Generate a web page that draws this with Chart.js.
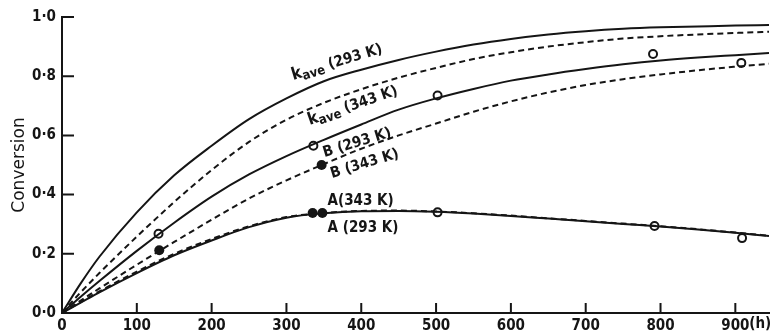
<!DOCTYPE html>
<html>
<head>
<meta charset="utf-8">
<script src="https://cdn.jsdelivr.net/npm/chart.js@4/dist/chart.umd.min.js"></script>
<style>
  html, body { margin: 0; padding: 0; background: #fff; }
  #wrap { width: 775px; height: 336px; }
</style>
</head>
<body>
<div id="wrap"><canvas id="conversionChart"></canvas></div>
<script>
// time grid (h) for the fitted curves
const hours = [0, 25, 50, 100, 150, 200, 250, 300, 350, 400, 450, 500, 550, 600, 650, 700, 750, 800, 850, 900, 945];

// conversion curves
const kave293 = [0, 0.1, 0.19, 0.34, 0.465, 0.565, 0.655, 0.725, 0.783, 0.822, 0.855, 0.883, 0.907, 0.926, 0.941, 0.952, 0.96, 0.965, 0.968, 0.971, 0.973];
const kave343 = [0, 0.07, 0.135, 0.258, 0.375, 0.483, 0.578, 0.653, 0.71, 0.756, 0.795, 0.828, 0.858, 0.881, 0.9, 0.915, 0.927, 0.935, 0.941, 0.946, 0.95];
const b293 = [0, 0.055, 0.108, 0.21, 0.305, 0.393, 0.468, 0.53, 0.585, 0.637, 0.687, 0.725, 0.757, 0.785, 0.806, 0.824, 0.84, 0.853, 0.863, 0.871, 0.878];
const b343 = [0, 0.042, 0.083, 0.163, 0.24, 0.315, 0.387, 0.448, 0.503, 0.555, 0.6, 0.64, 0.68, 0.715, 0.745, 0.77, 0.79, 0.806, 0.82, 0.832, 0.842];
const a293 = [0, 0.035, 0.07, 0.135, 0.195, 0.245, 0.29, 0.322, 0.337, 0.344, 0.345, 0.342, 0.336, 0.328, 0.319, 0.31, 0.301, 0.292, 0.282, 0.271, 0.26];
const a343 = [0, 0.037, 0.073, 0.14, 0.2, 0.25, 0.293, 0.324, 0.338, 0.345, 0.346, 0.343, 0.337, 0.329, 0.32, 0.311, 0.302, 0.293, 0.283, 0.272, 0.261];

// measured points
const openHours = [129, 336, 502, 790, 908, 502, 792, 909];
const openConv = [0.268, 0.565, 0.735, 0.875, 0.845, 0.34, 0.294, 0.253];
const filledHours = [130, 347, 335, 348];
const filledConv = [0.212, 0.50, 0.338, 0.338];

// axis ticks
const xTicks = [0, 100, 200, 300, 400, 500, 600, 700, 800, 900];
const yTicks = [0, 0.2, 0.4, 0.6, 0.8, 1.0];

const INK = '#151515';
const NARROW = "'DejaVu Sans Condensed', 'DejaVu Sans', sans-serif";

// curve labels: anchor (h, conversion) at the left end of the baseline
const curveLabels = [
    { k: true, text: ' (293 K)', t: 309, c: 0.787, angle: -17 },
    { k: true, text: ' (343 K)', t: 331, c: 0.635, angle: -19 },
    { text: 'B (293 K)', t: 351, c: 0.527, angle: -17 },
    { text: 'B (343 K)', t: 361, c: 0.456, angle: -17 },
    { text: 'A(343 K)', t: 355, c: 0.366, angle: 0 },
    { text: 'A (293 K)', t: 355, c: 0.274, angle: 0 }
];

function pairs(xs, ys) {
    return xs.map((x, i) => ({ x: x, y: ys[i] }));
}

function curve(values, dashed) {
    return {
        type: 'line',
        data: pairs(hours, values),
        borderColor: INK,
        borderWidth: 2,
        borderDash: dashed ? [6, 4] : [],
        pointRadius: 0,
        cubicInterpolationMode: 'monotone',
        fill: false
    };
}

const insideTicks = {
    id: 'insideTicks',
    afterDatasetsDraw(chart) {
        const ctx = chart.ctx;
        const xs = chart.scales.x;
        const ys = chart.scales.y;
        ctx.save();
        ctx.strokeStyle = INK;
        ctx.lineWidth = 2;
        ctx.beginPath();
        xTicks.forEach(v => {
            if (v === 0) return;
            const px = xs.getPixelForValue(v);
            ctx.moveTo(px, ys.bottom);
            ctx.lineTo(px, ys.bottom - 10);
        });
        yTicks.forEach(v => {
            const py = ys.getPixelForValue(v);
            ctx.moveTo(xs.left, py);
            ctx.lineTo(xs.left + 12, py);
        });
        ctx.stroke();

        // unit after the last tick label
        ctx.fillStyle = INK;
        ctx.font = 'bold 15px ' + NARROW;
        ctx.textBaseline = 'top';
        ctx.textAlign = 'left';
        ctx.fillText('(h)', xs.getPixelForValue(900) + 14, ys.bottom + 4);

        // curve labels
        curveLabels.forEach(l => {
            const px = xs.getPixelForValue(l.t);
            const py = ys.getPixelForValue(l.c);
            ctx.save();
            ctx.translate(px, py);
            ctx.rotate(l.angle * Math.PI / 180);
            ctx.textBaseline = 'alphabetic';
            let x = 0;
            if (l.k) {
                ctx.font = 'bold 17px ' + NARROW;
                ctx.fillText('k', 0, 0);
                x += ctx.measureText('k').width;
                ctx.font = 'bold 13px ' + NARROW;
                ctx.fillText('ave', x, 3);
                x += ctx.measureText('ave').width;
            }
            ctx.font = 'bold 15px ' + NARROW;
            ctx.fillText(l.text, x, 0);
            ctx.restore();
        });
        ctx.restore();
    }
};

const ctx = document.getElementById('conversionChart').getContext('2d');
new Chart(ctx, {
    type: 'scatter',
    data: {
        datasets: [
            curve(kave293, false),
            curve(kave343, true),
            curve(b293, false),
            curve(b343, true),
            curve(a293, false),
            curve(a343, true),
            {
                data: pairs(openHours, openConv),
                pointRadius: 4,
                pointBorderWidth: 2,
                pointBorderColor: INK,
                pointBackgroundColor: '#fff'
            },
            {
                data: pairs(filledHours, filledConv),
                pointRadius: 5,
                pointBorderWidth: 0,
                pointBackgroundColor: INK
            }
        ]
    },
    options: {
        responsive: true,
        maintainAspectRatio: false,
        animation: false,
        layout: { padding: { top: 17, right: 5, left: 0, bottom: 0 } },
        plugins: {
            legend: { display: false },
            tooltip: { enabled: false }
        },
        scales: {
            x: {
                type: 'linear',
                min: 0,
                max: 945,
                afterFit(scale) { scale.height = 23; },
                grid: { display: false, drawTicks: false },
                border: { display: true, color: INK, width: 2 },
                ticks: {
                    stepSize: 100,
                    includeBounds: false,
                    padding: 4,
                    maxRotation: 0,
                    color: INK,
                    font: { family: NARROW, size: 15, weight: 'bold' },
                    callback: v => (v % 100 === 0 ? String(v) : '')
                }
            },
            y: {
                min: 0,
                max: 1,
                afterFit(scale) { scale.width = 62; },
                grid: { display: false, drawTicks: false },
                border: { display: true, color: INK, width: 2 },
                title: {
                    display: true,
                    text: 'Conversion',
                    color: INK,
                    font: { family: "'DejaVu Sans', sans-serif", size: 17 },
                    padding: { top: 9, bottom: 0 }
                },
                ticks: {
                    stepSize: 0.2,
                    padding: 6,
                    color: INK,
                    font: { family: NARROW, size: 15, weight: 'bold' },
                    callback: v => v.toFixed(1).replace('.', '·')
                }
            }
        }
    },
    plugins: [insideTicks]
});
</script>
</body>
</html>
